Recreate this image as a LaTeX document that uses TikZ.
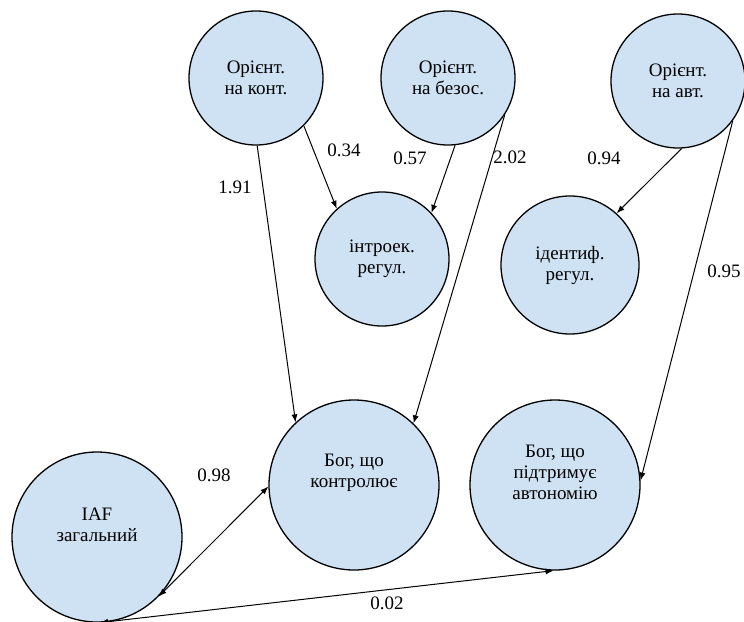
\documentclass[tikz,border=0pt]{standalone}
\usepackage{fontspec}
\setmainfont{Liberation Serif}
\newfontfamily\timesfont{Liberation Serif}
\usetikzlibrary{arrows.meta}
\usetikzlibrary{shapes}
\definecolor{factorblue}{RGB}{207,226,243}
\tikzset{
        factor/.style={align=center,inner sep=0pt,font=\timesfont\fontsize{19}{21}\selectfont},
        % Small factor circles
        node_small/.style={factor, circle, draw=black, line width=1.3pt, fill=factorblue, minimum size=134pt},
        % Big factor circles
        node_big/.style={factor, circle, draw=black, line width=1.3pt, fill=factorblue, minimum size=170pt},
        % Path weights
        node_weight/.style={inner sep=0pt, font=\timesfont\fontsize{19}{21}\selectfont},
        % Paths
        edge_path/.style={line width=1pt, -{Latex[length=8pt,width=6pt]}}
}
\begin{document}
\begin{tikzpicture}[x=1pt,y=-1pt]
            \useasboundingbox (0,0) rectangle (744,621);
            % Orientations
            \node[node_small] (kont)  at (256,78) {Орієнт.\\на конт.};
            \node[node_small] (bezos) at (448,78) {Орієнт.\\на безос.};
            \node[node_small] (avt)   at (678,81) {Орієнт.\\на авт.};
            % Regulations
            \node[node_small] (intro) at (382,259) {інтроек.\\регул.};
            \node[node_small, minimum size=138pt] (ident) at (570,265) {ідентиф.\\регул.};
            % God images
            \node[node_big] (bog_k) at (354,485) {Бог, що\\контролює\\[8pt]};
            \node[node_big] (bog_a) at (555,485) {Бог, що\\підтримує\\автономію\\[4pt]};
            \node[node_big] (iaf)   at (97,537) {IAF\\загальний\\[4pt]};

            \draw[edge_path] (kont.-89) -- (bog_k.133);
            \draw[edge_path] (kont.-45) -- (intro.132);
            \draw[edge_path] (bezos.-84) -- (intro.43);
            \draw[edge_path] (bezos.-33) -- (bog_k.46);
            \draw[edge_path] (avt.-87) -- (ident.48);
            \draw[edge_path] (avt.-36) -- (bog_a.3);
            \draw[edge_path, {Latex[length=8pt,width=6pt]}-{Latex[length=8pt,width=6pt]}] (iaf.-44) -- (bog_k.181);
            \draw[edge_path, {Latex[length=8pt,width=6pt]}-{Latex[length=8pt,width=6pt]}] (iaf.-88) -- (bog_a.-91);

            \node[node_weight] (w1) at (235,187) {1.91};
            \node[node_weight] (w2) at (344,150) {0.34};
            \node[node_weight] (w3) at (410,158) {0.57};
            \node[node_weight] (w4) at (510,157) {2.02};
            \node[node_weight] (w5) at (604,158) {0.94};
            \node[node_weight] (w6) at (724,271) {0.95};
            \node[node_weight] (w7) at (214,475) {0.98};
            \node[node_weight] (w8) at (387,603) {0.02};
        \end{tikzpicture}
\end{document}
